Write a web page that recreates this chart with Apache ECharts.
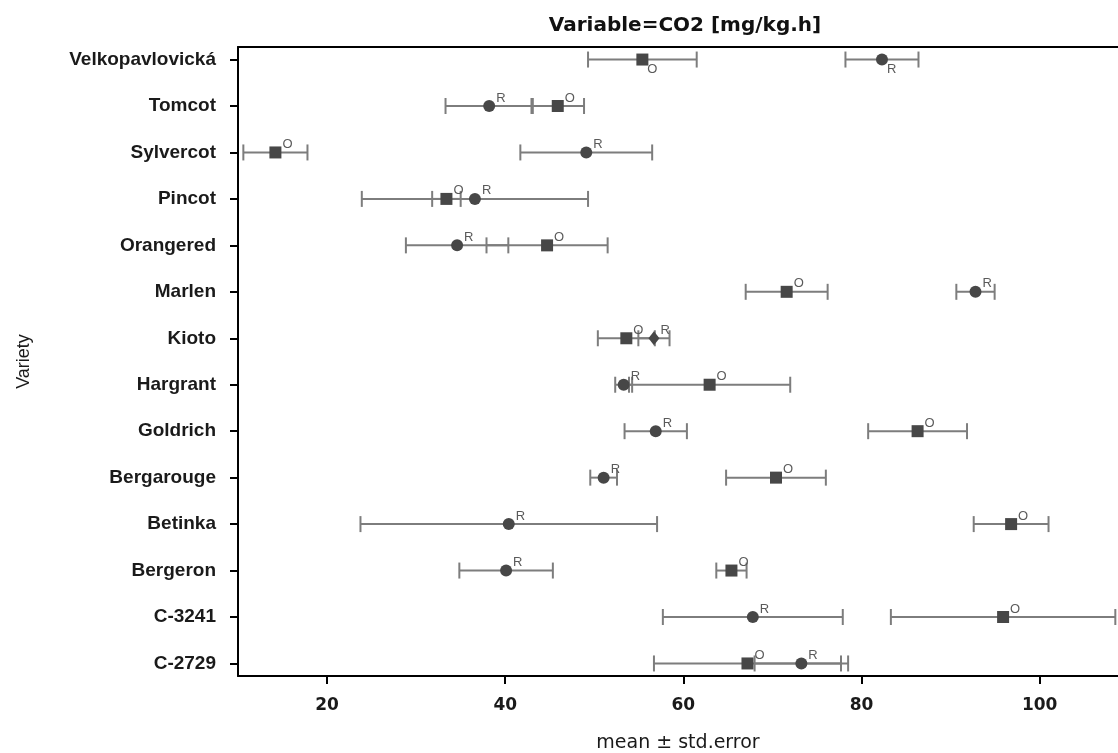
<!DOCTYPE html>
<html>
<head>
<meta charset="utf-8">
<script src="https://cdn.jsdelivr.net/npm/echarts@6/dist/echarts.min.js"></script>
<style>
  html, body { margin: 0; padding: 0; background: #ffffff; }
  #chart { width: 1118px; height: 753px; }
</style>
</head>
<body>
<div id="chart"></div>
<script>
// Categories from bottom (index 0) to top
const categories = ['C-2729', 'C-3241', 'Bergeron', 'Betinka', 'Bergarouge', 'Goldrich', 'Hargrant', 'Kioto', 'Marlen', 'Orangered', 'Pincot', 'Sylvercot', 'Tomcot', 'Velkopavlovická'];
// Group "O" (square markers): mean and standard error
const meanO = [67.2, 95.9, 65.4, 96.8, 70.4, 86.3, 62.95, 53.6, 71.6, 44.7, 33.4, 14.2, 45.9, 55.4];
const seO   = [10.5, 12.6, 1.7, 4.2, 5.6, 5.55, 9.05, 3.2, 4.6, 6.8, 1.6, 3.6, 2.95, 6.1];
// Group "R" (round markers): mean and standard error
const meanR = [73.25, 67.8, 40.1, 40.4, 51.05, 56.9, 53.3, 56.7, 92.8, 34.6, 36.6, 49.1, 38.2, 82.3];
const seR   = [5.25, 10.1, 5.25, 16.65, 1.5, 3.5, 0.95, 1.75, 2.15, 5.75, 12.7, 7.4, 4.9, 4.1];
// Tick values on the x axis
const xTicks = [20, 40, 60, 80, 100];
const groupNames = ['O', 'R'];

const catIdx = categories.map((c, i) => i);
const markColor = '#474747';
const whiskerColor = '#7d7d7d';

function whiskerSeries(means, ses) {
  return {
    type: 'custom',
    z: 2,
    silent: true,
    data: means.map((m, i) => [m, i, ses[i]]),
    encode: { x: 0, y: 1 },
    renderItem: function (params, api) {
      const m = api.value(0), idx = api.value(1), se = api.value(2);
      const lo = api.coord([m - se, idx]);
      const hi = api.coord([m + se, idx]);
      const h = 8;
      const style = { stroke: whiskerColor, lineWidth: 2 };
      return {
        type: 'group',
        children: [
          { type: 'line', shape: { x1: lo[0], y1: lo[1], x2: hi[0], y2: hi[1] }, style: style },
          { type: 'line', shape: { x1: lo[0], y1: lo[1] - h, x2: lo[0], y2: lo[1] + h }, style: style },
          { type: 'line', shape: { x1: hi[0], y1: hi[1] - h, x2: hi[0], y2: hi[1] + h }, style: style }
        ]
      };
    }
  };
}

function markerSeries(means, name, symbol) {
  return {
    type: 'scatter',
    name: name,
    z: 5,
    symbol: symbol,
    symbolSize: 12,
    itemStyle: { color: markColor, opacity: 1 },
    label: {
      show: true,
      formatter: name,
      position: 'right',
      distance: 1,
      offset: [0, -8],
      fontFamily: 'Liberation Sans',
      fontSize: 13,
      color: '#5a5a5a'
    },
    data: means.map((m, i) => {
      const item = { value: [m, i] };
      if (name === 'R' && categories[i] === 'Kioto') {
        item.symbol = 'diamond';
        item.symbolSize = [11, 14];
      }
      if (categories[i] === 'Velkopavlovická') {
        item.label = { offset: [-2, 10] };
      }
      return item;
    })
  };
}

const chart = echarts.init(document.getElementById('chart'), null, { renderer: 'canvas' });
chart.setOption({
  animation: false,
  backgroundColor: '#ffffff',
  title: {
    text: 'Variable=CO2 [mg/kg.h]',
    left: 680,
    top: 11,
    textAlign: 'center',
    textStyle: { fontFamily: 'DejaVu Sans', fontWeight: 'bold', fontSize: 20, color: '#111' }
  },
  grid: { left: 238, top: 47, right: 0, height: 629, outerBoundsMode: 'none', containLabel: false },
  xAxis: [{
    type: 'value',
    min: 10,
    max: 108.8,
    position: 'bottom',
    name: 'mean ± std.error',
    nameLocation: 'middle',
    nameGap: 58,
    nameMoveOverlap: false,
    nameTextStyle: { fontFamily: 'DejaVu Sans', fontSize: 19, color: '#1a1a1a' },
    axisLine: { show: true, onZero: false, lineStyle: { color: '#000', width: 2 } },
    axisTick: { show: true, length: 8, customValues: xTicks, lineStyle: { color: '#000', width: 2 } },
    axisLabel: { customValues: xTicks, margin: 21, fontFamily: 'DejaVu Sans', fontWeight: 'bold', fontSize: 17, color: '#1a1a1a' },
    splitLine: { show: false }
  }, {
    type: 'value',
    min: 10,
    max: 108.8,
    position: 'top',
    axisLine: { show: true, onZero: false, lineStyle: { color: '#000', width: 2 } },
    axisTick: { show: false },
    axisLabel: { show: false },
    splitLine: { show: false }
  }],
  yAxis: {
    type: 'value',
    min: -0.27,
    max: 13.27,
    name: 'Variety',
    nameLocation: 'middle',
    nameRotate: 90,
    nameGap: 205,
    nameMoveOverlap: false,
    nameTextStyle: { fontFamily: 'Liberation Sans', fontSize: 18, color: '#1a1a1a' },
    axisLine: { show: true, onZero: false, lineStyle: { color: '#000', width: 2 } },
    axisTick: { show: true, length: 8, customValues: catIdx, lineStyle: { color: '#000', width: 2 } },
    axisLabel: {
      customValues: catIdx,
      margin: 22,
      formatter: v => categories[Math.round(v)],
      fontFamily: 'Liberation Sans',
      fontWeight: 'bold',
      fontSize: 19,
      color: '#1a1a1a'
    },
    splitLine: { show: false }
  },
  series: [
    whiskerSeries(meanO, seO),
    whiskerSeries(meanR, seR),
    markerSeries(meanO, groupNames[0], 'rect'),
    markerSeries(meanR, groupNames[1], 'circle')
  ]
});
</script>
</body>
</html>
